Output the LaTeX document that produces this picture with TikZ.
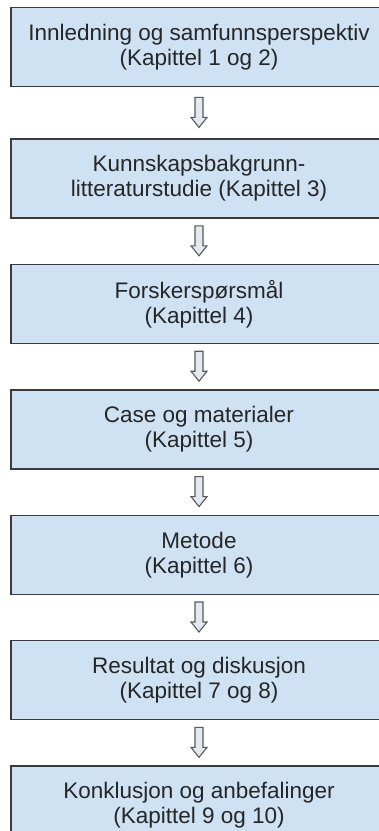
\documentclass[tikz,border=0pt]{standalone}
\usepackage{fontspec}
\setmainfont{Liberation Sans}
\usetikzlibrary{positioning, calc}

\definecolor{boxblue}{HTML}{CFE2F3}
\definecolor{boxline}{HTML}{3A3A3A}
\definecolor{arrowfill}{HTML}{E2E9F0}
\definecolor{arrowline}{HTML}{595959}
\definecolor{textgray}{HTML}{262626}

\begin{document}
\begin{tikzpicture}[
    x=1pt, y=1pt,
    node distance=45pt,
    chapter/.style={draw=boxline, line width=1.4pt, fill=boxblue, text=textgray,
        minimum width=376pt, minimum height=79pt, align=center, inner sep=0pt,
        font=\fontsize{22.5pt}{25pt}\selectfont},
    hollow/.style={draw=arrowline, line width=1.1pt, fill=arrowfill, line join=miter}
]
    \useasboundingbox (0,0) rectangle (379,-831);

    % --- CHAPTER BOXES ---
    \node[chapter, anchor=north] (intro) at (199,-7) {Innledning og samfunnsperspektiv\\(Kapittel 1 og 2)};
    \node[chapter, below=51pt of intro] (theory) {Kunnskapsbakgrunn-\\litteraturstudie (Kapittel 3)};
    \node[chapter, below=of theory] (questions) {Forskerspørsmål\\(Kapittel 4)};
    \node[chapter, below=of questions] (material) {Case og materialer\\(Kapittel 5)};
    \node[chapter, below=of material] (method) {Metode\\(Kapittel 6)};
    \node[chapter, below=of method] (results) {Resultat og diskusjon\\(Kapittel 7 og 8)};
    \node[chapter, below=of results] (conclusion) {Konklusjon og anbefalinger\\(Kapittel 9 og 10)};

    % --- HOLLOW DOWN ARROWS ---
    \foreach \a/\b in {intro/theory, theory/questions, questions/material,
                       material/method, method/results, results/conclusion}
    {
        \coordinate (mid) at ($(\a.south)!0.5!(\b.north)$);
        \draw[hollow] ([shift={(-4,15.5)}]mid) -- ++(8,0) -- ++(0,-20) -- ++(4,0)
            -- ++(-8,-10) -- ++(-8,10) -- ++(4,0) -- cycle;
    }

\end{tikzpicture}
\end{document}
